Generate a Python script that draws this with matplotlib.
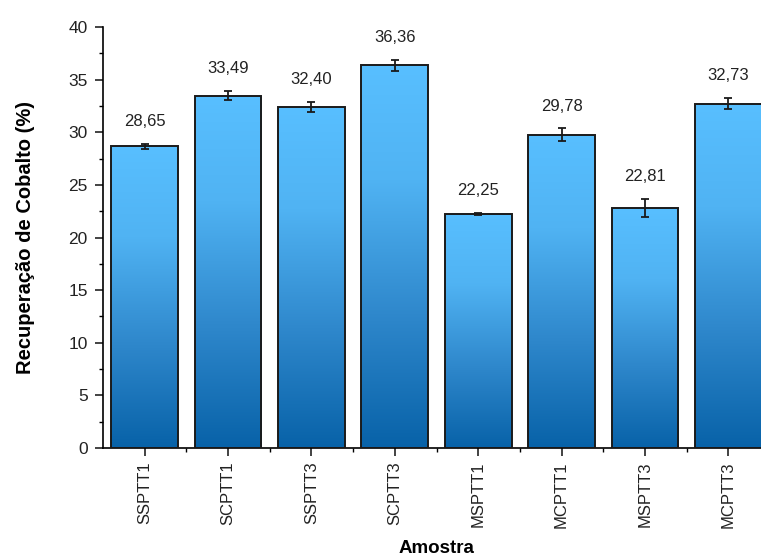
import matplotlib
matplotlib.use("Agg")
import matplotlib.pyplot as plt
import numpy as np
from matplotlib.colors import LinearSegmentedColormap
from matplotlib.ticker import MultipleLocator

# Data
samples = ["SSPTT1", "SCPTT1", "SSPTT3", "SCPTT3", "MSPTT1", "MCPTT1", "MSPTT3", "MCPTT3"]
recovery = [28.65, 33.49, 32.40, 36.36, 22.25, 29.78, 22.81, 32.73]
errors = [0.24, 0.43, 0.50, 0.55, 0.10, 0.60, 0.85, 0.55]
value_labels = ["28,65", "33,49", "32,40", "36,36", "22,25", "29,78", "22,81", "32,73"]

plt.rcParams['font.family'] = ['Liberation Sans', 'DejaVu Sans']

fig = plt.figure(figsize=(7.61, 5.59), dpi=100)
ax = fig.add_axes([103 / 761, 1 - 448 / 559, (770 - 103) / 761, (448 - 27) / 559])

x = np.arange(len(samples))
bars = ax.bar(x, recovery, width=0.8, facecolor="none", edgecolor="#1a1a1a",
              linewidth=1.4, zorder=3)

# vertical gradient inside each bar (light on top, dark at bottom)
cmap = LinearSegmentedColormap.from_list(
    "bluegrad", [(0.0, "#0862a8"), (0.35, "#2f88cc"), (0.7, "#50b3f3"), (1.0, "#58bfff")])
grad = np.linspace(0, 1, 256).reshape(-1, 1)
for b in bars:
    x0, w, h = b.get_x(), b.get_width(), b.get_height()
    im = ax.imshow(grad, cmap=cmap, origin="lower", aspect="auto",
                   extent=[x0, x0 + w, 0, h], zorder=2)
    im.set_clip_path(b)

ax.errorbar(x, recovery, yerr=errors, fmt="none", ecolor="#1a1a1a",
            elinewidth=1.3, capsize=3, capthick=1.3, zorder=4)

for xi, v, e, lab in zip(x, recovery, errors, value_labels):
    ax.text(xi, v + e + 1.4, lab, ha="center", va="bottom", fontsize=12, color="#222222")

ax.set_xlim(-0.5, len(samples) - 0.5)
ax.set_ylim(0, 40)
ax.yaxis.set_major_locator(MultipleLocator(5))
ax.yaxis.set_minor_locator(MultipleLocator(2.5))
ax.set_xticks(x)
ax.set_xticks(x[:-1] + 0.5, minor=True)
ax.set_xticklabels(samples, rotation=90, fontsize=12)
ax.tick_params(axis="y", labelsize=12.5, pad=5)
ax.tick_params(which="major", direction="out", length=6, width=1.2, colors="#222222")
ax.tick_params(which="minor", direction="out", length=3, width=1.0)

for s in ["top", "right"]:
    ax.spines[s].set_visible(False)
for s in ["left", "bottom"]:
    ax.spines[s].set_linewidth(1.2)

ax.set_ylabel("Recuperação de Cobalto (%)", fontsize=14.5, fontweight="bold")
ax.yaxis.set_label_coords(-0.102, 0.5)
ax.set_xlabel("Amostra", fontsize=13.5, fontweight="bold", labelpad=9)

plt.savefig("out.png", dpi=100)
plt.close()
